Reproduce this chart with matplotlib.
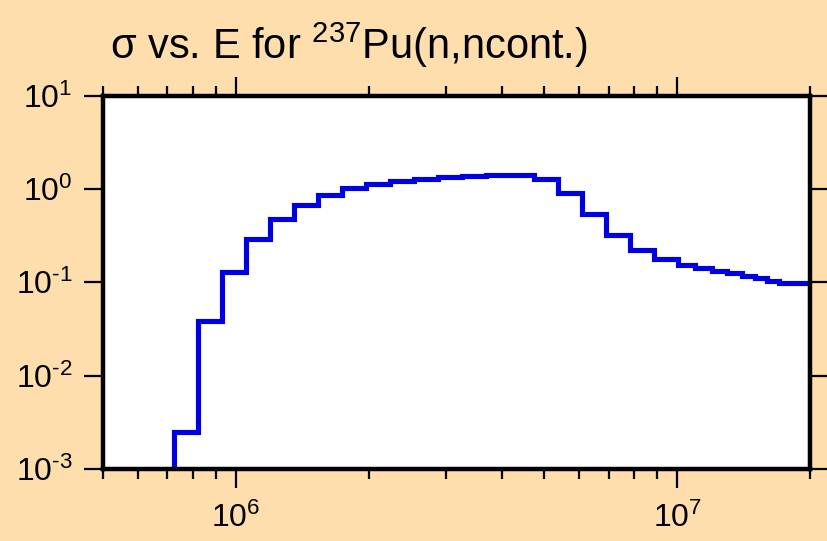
import matplotlib
matplotlib.use("Agg")
import matplotlib.pyplot as plt
from matplotlib.ticker import LogLocator, NullFormatter, NullLocator, FuncFormatter
import numpy as np

plt.rcParams['font.family'] = ['Liberation Sans', 'DejaVu Sans']
plt.rcParams['mathtext.fontset'] = 'custom'
plt.rcParams['mathtext.rm'] = 'Liberation Sans'
plt.rcParams['mathtext.it'] = 'Liberation Sans'
plt.rcParams['mathtext.bf'] = 'Liberation Sans'
plt.rcParams['axes.unicode_minus'] = False

# Bin edges (eV) and cross sections (b)
energy_edges = [7.23e5, 8.20e5, 9.30e5, 1.054e6, 1.194e6, 1.354e6, 1.534e6, 1.739e6,
                1.972e6, 2.235e6, 2.533e6, 2.871e6, 3.254e6, 3.689e6, 4.181e6,
                4.740e6, 5.373e6, 6.09e6, 6.90e6, 7.82e6, 8.87e6, 1.005e7,
                1.10e7, 1.20e7, 1.30e7, 1.40e7, 1.50e7, 1.60e7, 1.70e7, 2.0e7]
sigma = [2.5e-3, 0.038, 0.130, 0.29, 0.47, 0.68, 0.87, 1.02, 1.13, 1.22,
         1.29, 1.33, 1.38, 1.42, 1.42, 1.28, 0.90, 0.54, 0.32, 0.224,
         0.178, 0.153, 0.142, 0.132, 0.125, 0.117, 0.111, 0.104, 0.098]

x_limits = (5e5, 2e7)
y_limits = (1e-3, 1e1)
title_text = r"σ vs. E for $^{237}$Pu(n,ncont.)"


def pow10_label(v, pos):
    e = int(round(np.log10(v)))
    if e < 0:
        return r"$10^{\text{-}%d}$" % (-e)
    return r"$10^{%d}$" % e


bg = '#FFDEAD'
fig = plt.figure(figsize=(8.27, 5.41), dpi=100, facecolor=bg)
ax = fig.add_axes([103/827, 1 - 469/541, (810-103)/827, (469-95.5)/541])
ax.set_facecolor('white')

ax.stairs(sigma, energy_edges, baseline=1e-6, color='#0000E0', linewidth=3.7)

ax.set_xscale('log')
ax.set_yscale('log')
ax.set_xlim(*x_limits)
ax.set_ylim(*y_limits)

ax.xaxis.set_major_locator(LogLocator(base=10, numticks=10))
ax.xaxis.set_major_formatter(FuncFormatter(pow10_label))
ax.xaxis.set_minor_locator(LogLocator(base=10, subs=np.arange(2, 10), numticks=20))
ax.xaxis.set_minor_formatter(NullFormatter())
ax.yaxis.set_major_locator(LogLocator(base=10, numticks=10))
ax.yaxis.set_major_formatter(FuncFormatter(pow10_label))
ax.yaxis.set_minor_locator(NullLocator())

for s in ax.spines.values():
    s.set_linewidth(3.2)
    s.set_color('black')

ax.tick_params(which='both', direction='out', top=True, right=True, color='black')
ax.tick_params(which='major', length=14, width=1.6, labelsize=23)
ax.tick_params(which='minor', length=7, width=1.6)
ax.tick_params(axis='x', which='major', pad=10)
ax.tick_params(axis='y', which='major', pad=8)

fig.text(110/827, 1 - 59/541, title_text, fontsize=30, ha='left', va='baseline')

fig.savefig('out.png', dpi=100, facecolor=bg)
